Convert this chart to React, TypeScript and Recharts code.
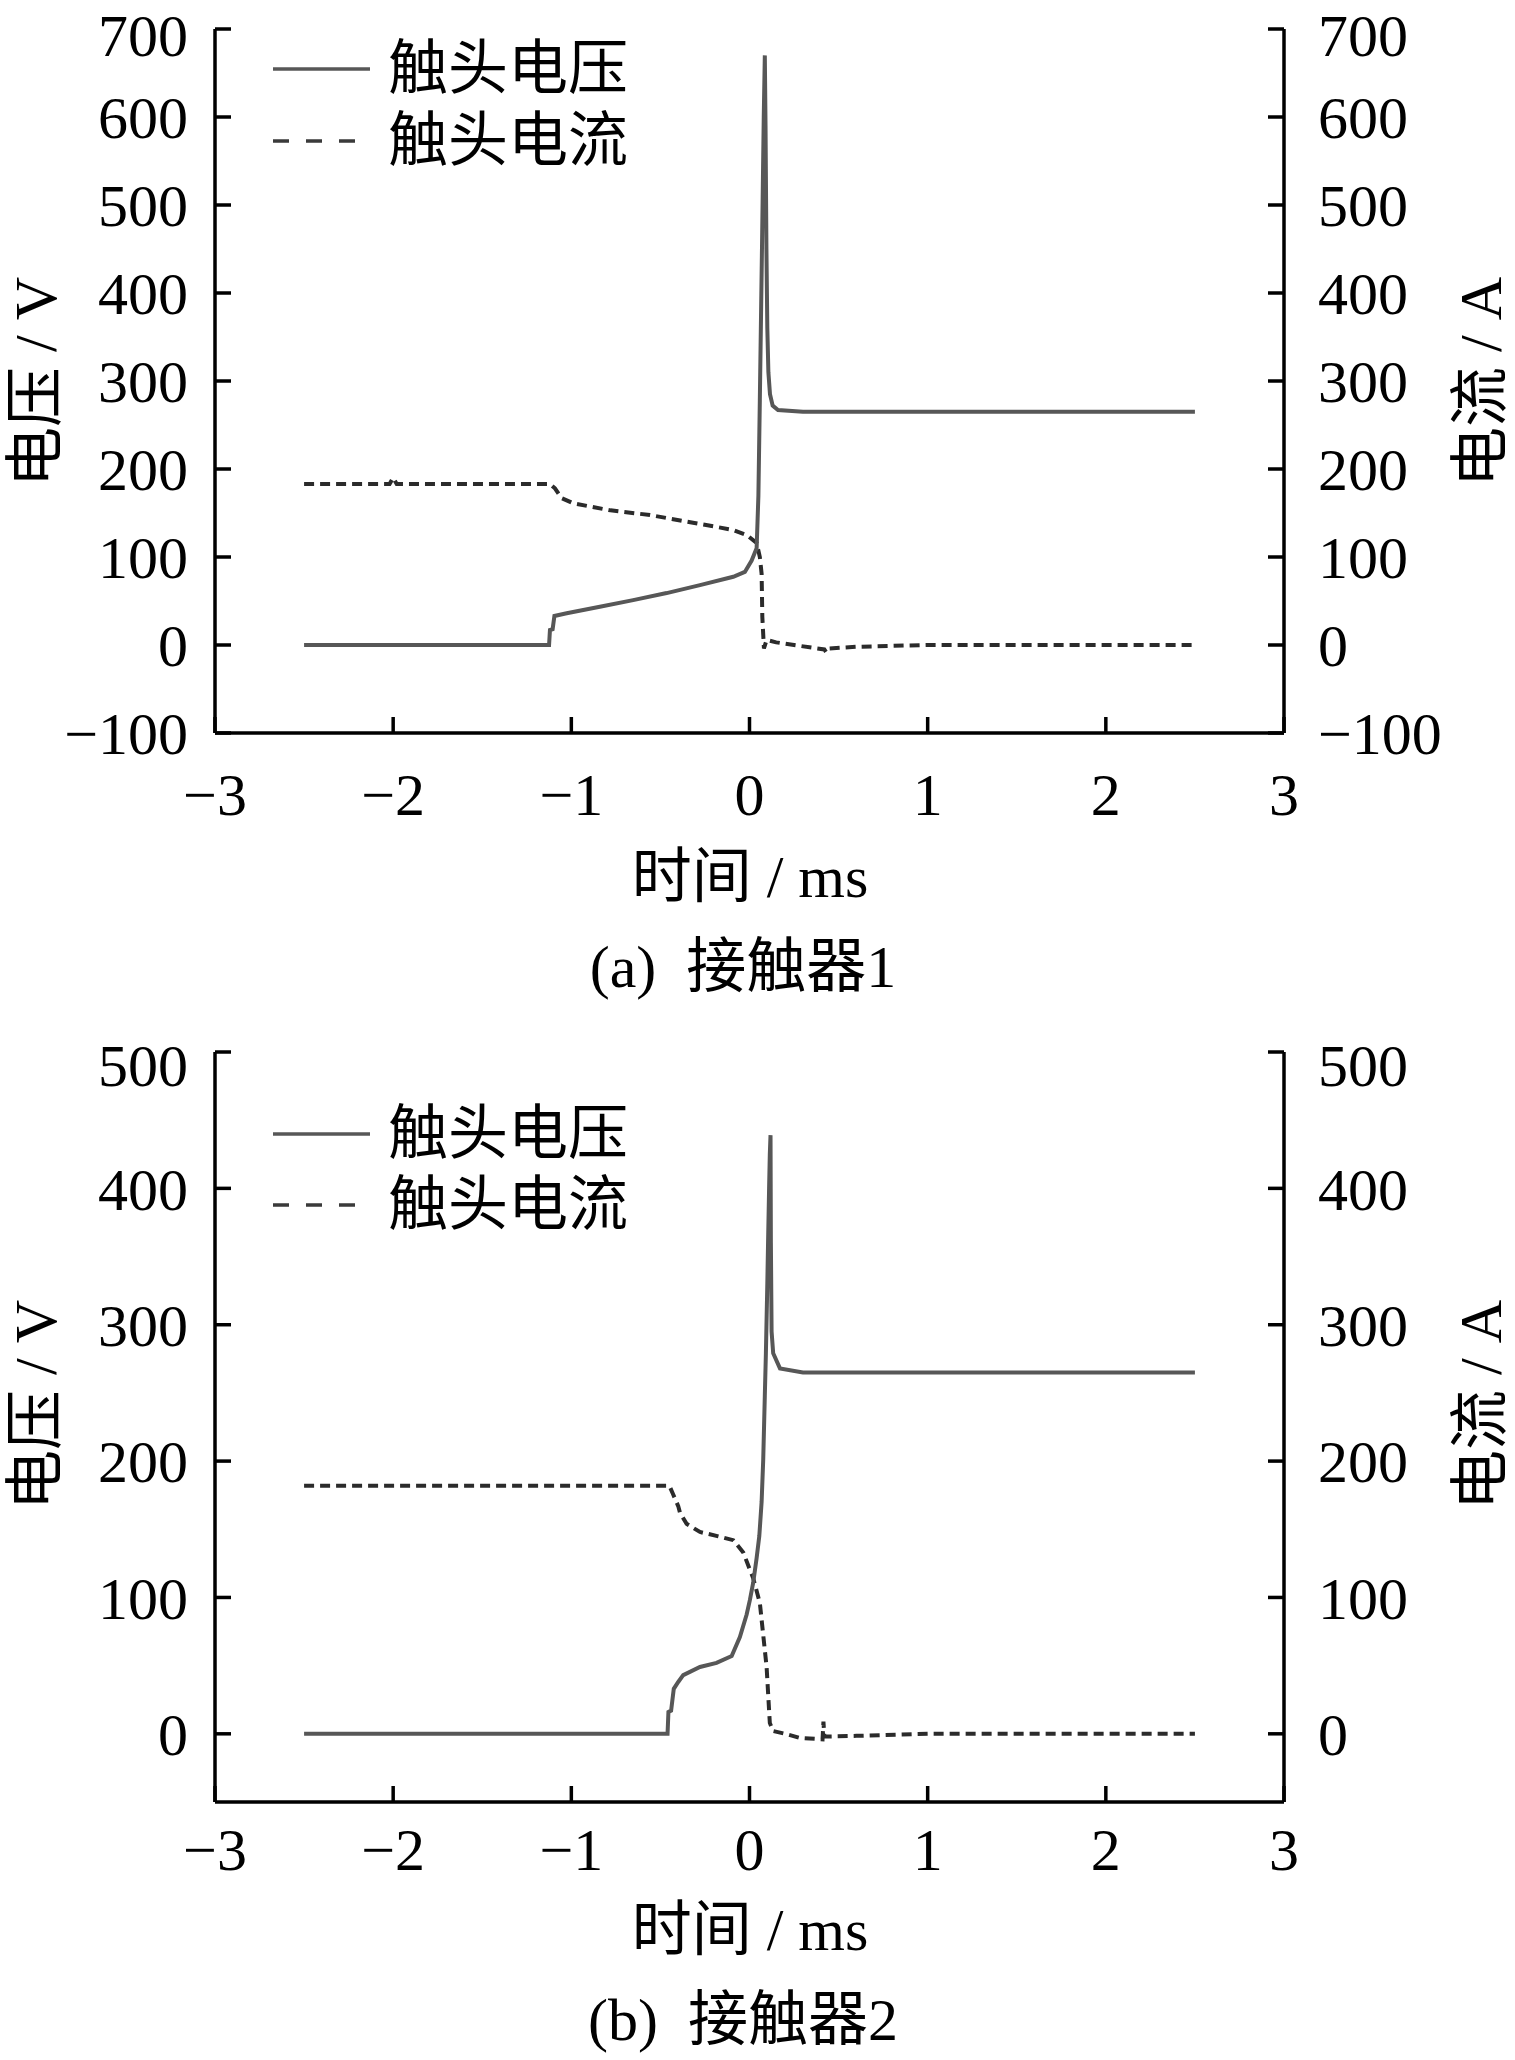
import React from "react";
import { LineChart, Line, XAxis, YAxis } from "recharts";

// (a) contactor 1: voltage samples
const TIME_V1 = [-2.5, -1.125, -1.12, -1.105, -1.095, -1.026, -0.84, -0.653, -0.465, -0.278, -0.091, -0.026, 0.012, 0.04, 0.05, 0.058, 0.07, 0.08, 0.086, 0.09, 0.095, 0.1, 0.106, 0.115, 0.13, 0.16, 0.3, 1.0, 2.0, 2.5];
const VOLT_1 = [0, 0, 17, 18, 33, 36, 43.5, 51, 59, 68, 77.5, 83, 96, 110, 170, 278, 450, 600, 670, 590, 450, 360, 310, 285, 272, 267, 265, 265, 265, 265];

// (a) contactor 1: current samples
const TIME_I1 = [-2.5, -2.02, -2.0, -1.98, -1.12, -1.092, -1.055, -0.989, -0.78, -0.559, -0.317, -0.091, -0.016, 0.04, 0.058, 0.068, 0.072, 0.081, 0.096, 0.15, 0.25, 0.35, 0.42, 0.43, 0.44, 0.6, 0.8, 1.0, 2.5];
const CURR_1 = [183, 183, 190, 183, 183, 178, 167, 161, 153, 147.7, 139, 130.7, 125, 116, 100, 81, 32, -4, 5.7, 3, 0, -3, -5, -8, -4, -2, -1, 0, 0];

// (b) contactor 2: voltage samples
const TIME_V2 = [-2.5, -0.46, -0.455, -0.44, -0.425, -0.4, -0.372, -0.278, -0.185, -0.1, -0.054, -0.016, 0.002, 0.021, 0.04, 0.055, 0.068, 0.077, 0.086, 0.092, 0.1, 0.105, 0.11, 0.114, 0.118, 0.12, 0.124, 0.133, 0.171, 0.3, 1.0, 2.5];
const VOLT_2 = [0, 0, 16, 17, 33, 38, 43, 49, 52, 57, 71, 87.5, 98, 111, 129, 145, 170, 201, 248, 279, 330, 366, 400, 425, 439, 360, 295, 279, 268, 265, 265, 265];

// (b) contactor 2: current samples
const TIME_I2 = [-2.5, -0.45, -0.43, -0.4, -0.39, -0.353, -0.278, -0.18, -0.091, -0.035, 0.021, 0.058, 0.096, 0.114, 0.133, 0.2, 0.283, 0.41, 0.415, 0.42, 0.6, 1.0, 2.5];
const CURR_2 = [182, 182, 176, 167, 162, 154, 148, 145, 142, 133, 114, 96, 49, 8, 2, 0, -3, -4, 9, -2, -1.5, 0, 0];

const X_TICKS = [-3, -2, -1, 0, 1, 2, 3];
const Y_TICKS_1 = [-100, 0, 100, 200, 300, 400, 500, 600, 700];
const Y_TICKS_2 = [0, 100, 200, 300, 400, 500];

const VOLT_COLOR = "#575757";
const CURR_COLOR = "#2b2b2b";
const FONT = '"Liberation Serif", "Noto Sans CJK SC", serif';

const zip = (ts: number[], vs: number[]) => ts.map((t, i) => ({ t, v: vs[i] }));

const fmt = (v: number) => (v < 0 ? "\u2212" + Math.abs(v) : String(v));

const tickStyle = { fontFamily: FONT, fontSize: 60, fill: "#000" };
const axisLine = { stroke: "#000", strokeWidth: 3.5 };

const textBase: React.CSSProperties = {
  position: "absolute",
  fontFamily: FONT,
  fontSize: 60,
  lineHeight: "64px",
  color: "#000",
  whiteSpace: "pre",
};
const centered: React.CSSProperties = { ...textBase, transform: "translate(-50%, -50%)" };
const rotated: React.CSSProperties = { ...textBase, transform: "translate(-50%, -50%) rotate(-90deg)" };

interface PanelProps {
  top: number;
  plotTop: number;
  xAxisHeight: number;
  xTickMargin: number;
  domain: [number, number];
  yTicks: number[];
  voltage: { t: number; v: number }[];
  current: { t: number; v: number }[];
  legendY: [number, number];
  yTitleCenter: number;
  xTitleCenter: number;
  captionCenter: number;
  caption: string;
}

function Legend({ y1, y2 }: { y1: number; y2: number }) {
  const rows = [
    { y: y1, label: "触头电压", dash: undefined as string | undefined, color: VOLT_COLOR },
    { y: y2, label: "触头电流", dash: "16 17", color: "#3a3a3a" },
  ];
  return (
    <>
      {rows.map((r) => (
        <React.Fragment key={r.label}>
          <svg style={{ position: "absolute", left: 273, top: r.y - 5 }} width={100} height={10}>
            <line x1={0} x2={97} y1={5} y2={5} stroke={r.color} strokeWidth={3.5} strokeDasharray={r.dash} />
          </svg>
          <div style={{ ...textBase, left: 388, top: r.y, transform: "translateY(-50%)" }}>{r.label}</div>
        </React.Fragment>
      ))}
    </>
  );
}

function Panel(p: PanelProps) {
  return (
    <>
      <div style={{ position: "absolute", left: 0, top: p.top }}>
        <LineChart
          width={1515}
          height={1030}
          margin={{ top: p.plotTop - p.top, right: 0, bottom: 0, left: 0 }}
        >
          <XAxis
            dataKey="t"
            type="number"
            domain={[-3, 3]}
            ticks={X_TICKS}
            allowDataOverflow
            height={p.xAxisHeight}
            tickSize={-16}
            tickMargin={p.xTickMargin}
            tickFormatter={fmt}
            tick={tickStyle}
            axisLine={axisLine}
            tickLine={axisLine}
          />
          <YAxis
            yAxisId="left"
            orientation="left"
            type="number"
            width={215}
            domain={p.domain}
            ticks={p.yTicks}
            allowDataOverflow
            tickSize={-16}
            tickMargin={43}
            tickFormatter={fmt}
            tick={tickStyle}
            axisLine={axisLine}
            tickLine={axisLine}
          />
          <YAxis
            yAxisId="right"
            orientation="right"
            type="number"
            width={231}
            domain={p.domain}
            ticks={p.yTicks}
            allowDataOverflow
            tickSize={-16}
            tickMargin={50}
            tickFormatter={fmt}
            tick={{ ...tickStyle, textAnchor: "start" }}
            axisLine={axisLine}
            tickLine={axisLine}
          />
          <Line
            yAxisId="right"
            data={p.current}
            dataKey="v"
            type="linear"
            stroke={CURR_COLOR}
            strokeWidth={4}
            strokeDasharray="10 6"
            dot={false}
            isAnimationActive={false}
          />
          <Line
            yAxisId="left"
            data={p.voltage}
            dataKey="v"
            type="linear"
            stroke={VOLT_COLOR}
            strokeWidth={4}
            dot={false}
            isAnimationActive={false}
          />
        </LineChart>
      </div>
      <Legend y1={p.legendY[0]} y2={p.legendY[1]} />
      <div style={{ ...rotated, left: 36, top: p.yTitleCenter }}>电压 / V</div>
      <div style={{ ...rotated, left: 1481, top: p.yTitleCenter }}>电流 / A</div>
      <div style={{ ...centered, left: 750, top: p.xTitleCenter }}>时间 / ms</div>
      <div style={{ ...centered, left: 743, top: p.captionCenter }}>{p.caption}</div>
    </>
  );
}

export default function App() {
  return (
    <div style={{ position: "absolute", left: 0, top: 0, width: 1515, height: 2060, background: "#fff", overflow: "hidden" }}>
      <Panel
        top={0}
        plotTop={29}
        xAxisHeight={1030 - 733}
        xTickMargin={55}
        domain={[-100, 700]}
        yTicks={Y_TICKS_1}
        voltage={zip(TIME_V1, VOLT_1)}
        current={zip(TIME_I1, CURR_1)}
        legendY={[69, 141]}
        yTitleCenter={382}
        xTitleCenter={877}
        captionCenter={967}
        caption={"(a)  接触器1"}
      />
      <Panel
        top={1030}
        plotTop={1052}
        xAxisHeight={2060 - 1802}
        xTickMargin={41}
        domain={[-50, 500]}
        yTicks={Y_TICKS_2}
        voltage={zip(TIME_V2, VOLT_2)}
        current={zip(TIME_I2, CURR_2)}
        legendY={[1134, 1205]}
        yTitleCenter={1405}
        xTitleCenter={1930}
        captionCenter={2020}
        caption={"(b)  接触器2"}
      />
    </div>
  );
}
